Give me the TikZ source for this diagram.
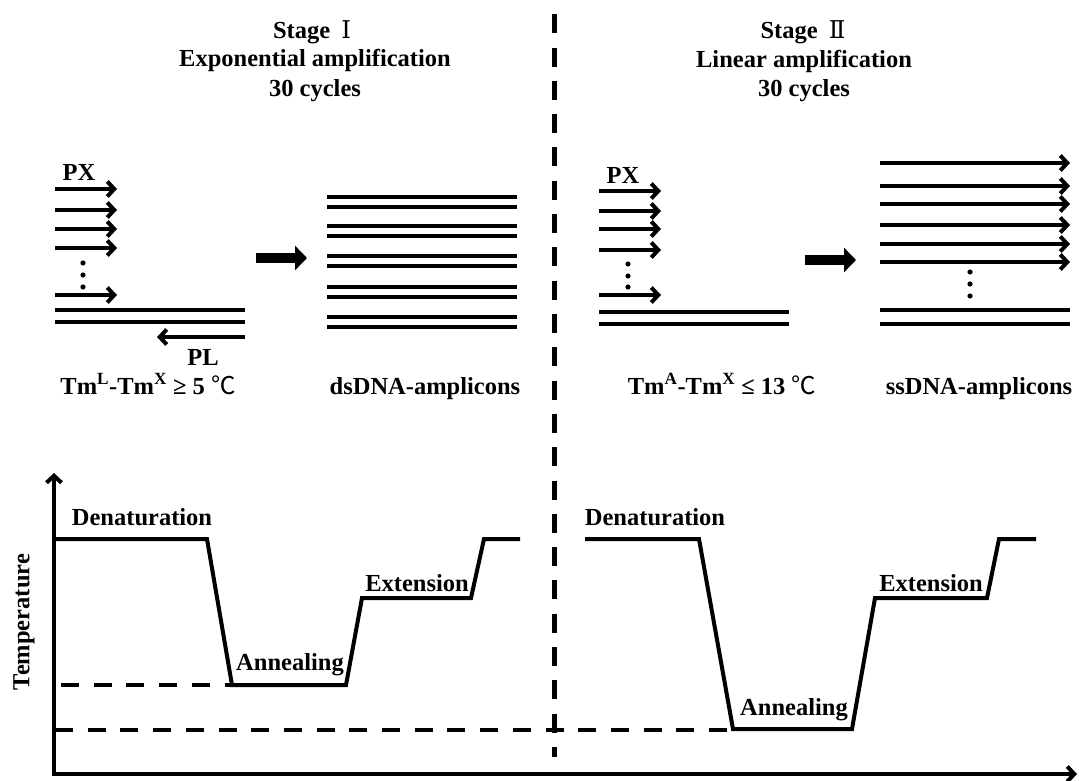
\documentclass[tikz,border=0pt]{standalone}
\usepackage{fontspec}
\setmainfont{Liberation Serif}
\newfontfamily\cjkfont{Noto Sans CJK SC}
\newfontfamily\romfont{DejaVu Serif}
\usetikzlibrary{arrows.meta}

\tikzset{
  strand/.style={line width=4pt},
  primer/.style={line width=4pt,-{Straight Barb[length=7pt,width=15pt]}},
  lbl/.style={font=\fontsize{24.5}{30}\selectfont\bfseries,inner sep=0pt,anchor=base},
  bigarrow/.style={line width=10pt,-{Triangle[length=12pt,width=24pt]}},
  divider/.style={line width=5pt,dash pattern=on 19pt off 14.3pt,dash phase=-14.3pt},
  guide/.style={line width=4pt,dash pattern=on 18pt off 14.7pt},
  profile/.style={line width=4pt,line join=miter},
  axis/.style={line width=4pt,{Straight Barb[length=7pt,width=15pt]}-{Straight Barb[length=7pt,width=15pt]}},
}

\begin{document}
\begin{tikzpicture}[x=1pt,y=-1pt]
        \useasboundingbox (0,0) rectangle (1079,781);
        % titles
        \node[lbl] (stageI) at (312,39) {Stage\hspace{5pt} {\romfont\mdseries Ⅰ}};
        \node[lbl] (modeI) at (315,67) {Exponential amplification};
        \node[lbl] (cycI) at (315,97) {30 cycles};
        \node[lbl] (stageII) at (803,39) {Stage\hspace{5pt} {\romfont\mdseries Ⅱ}};
        \node[lbl] (modeII) at (804,68) {Linear amplification};
        \node[lbl] (cycII) at (804,97) {30 cycles};
        \draw[divider] (554,0) -- (554,757);
        % stage I primers
        \node[lbl] (pxI) at (79,180) {PX};
        \draw[primer] (55,189) -- (117,189);
        \draw[primer] (55,210) -- (117,210);
        \draw[primer] (55,229) -- (117,229);
        \draw[primer] (55,248) -- (117,248);
        \fill (83,263) circle (2.6pt);
        \fill (83,275) circle (2.6pt);
        \fill (83,287) circle (2.6pt);
        \draw[primer] (55,295) -- (117,295);
        \draw[strand] (55,310) -- (245,310);
        \draw[strand] (55,322) -- (245,322);
        \draw[primer] (245,337) -- (157,337);
        \node[lbl] (plI) at (203,365) {PL};
        \coordinate (goI) at (256,258);
        \coordinate (endI) at (307,258);
        \draw[bigarrow] (goI) -- (endI);
        % dsDNA
        \foreach \y in {197,226,256,287,317}{
          \draw[strand] (327,\y) -- (517,\y);
          \draw[strand] (327,\y+10) -- (517,\y+10);
        }
        \node[lbl] (tmI) at (148,394) {Tm\textsuperscript{L}-Tm\textsuperscript{X} ≥ 5 {\cjkfont\mdseries ℃}};
        \node[lbl] (dsI) at (425,394) {dsDNA-amplicons};
        % stage II primers
        \node[lbl] (pxII) at (623,183) {PX};
        \draw[primer] (599,191) -- (661,191);
        \draw[primer] (599,211) -- (661,211);
        \draw[primer] (599,229) -- (661,229);
        \draw[primer] (599,250) -- (661,250);
        \fill (628,264) circle (2.6pt);
        \fill (628,276) circle (2.6pt);
        \fill (628,287) circle (2.6pt);
        \draw[primer] (599,295) -- (661,295);
        \draw[strand] (599,312) -- (789,312);
        \draw[strand] (599,324) -- (789,324);
        \coordinate (goII) at (805,260);
        \coordinate (endII) at (856,260);
        \draw[bigarrow] (goII) -- (endII);
        % ssDNA
        \foreach \y in {163,186,204,225,244,262}{
          \draw[primer] (880,\y) -- (1070,\y);
        }
        \fill (970,272) circle (2.6pt);
        \fill (970,284) circle (2.6pt);
        \fill (970,296) circle (2.6pt);
        \draw[strand] (880,310) -- (1070,310);
        \draw[strand] (880,324) -- (1070,324);
        \node[lbl] (tmII) at (722,394) {Tm\textsuperscript{A}-Tm\textsuperscript{X} ≤ 13 {\cjkfont\mdseries ℃}};
        \node[lbl] (ssII) at (979,394) {ssDNA-amplicons};
        % temperature profile
        \coordinate (top) at (54,473);
        \coordinate (origin) at (54,774);
        \coordinate (right) at (1077,774);
        \draw[axis] (top) -- (origin) -- (right);
        \node[lbl,rotate=90,anchor=center] (temp) at (24,622) {Temperature};
        \draw[guide] (61,685) -- (232,685);
        \draw[guide] (55,730) -- (733,730);
        \draw[profile] (55,539) -- (207,539) -- (232,685) -- (346,685) -- (362,598) -- (471,598) -- (484,539) -- (520,539);
        \draw[profile] (585,539) -- (699,539) -- (733,729) -- (852,729) -- (875,598) -- (987,598) -- (999,539) -- (1036,539);
        \node[lbl] (denI) at (142,525) {Denaturation};
        \node[lbl] (annI) at (290,670) {Annealing};
        \node[lbl] (extI) at (417,591) {Extension};
        \node[lbl] (denII) at (655,525) {Denaturation};
        \node[lbl] (annII) at (794,715) {Annealing};
        \node[lbl] (extII) at (931,591) {Extension};
\end{tikzpicture}
\end{document}
